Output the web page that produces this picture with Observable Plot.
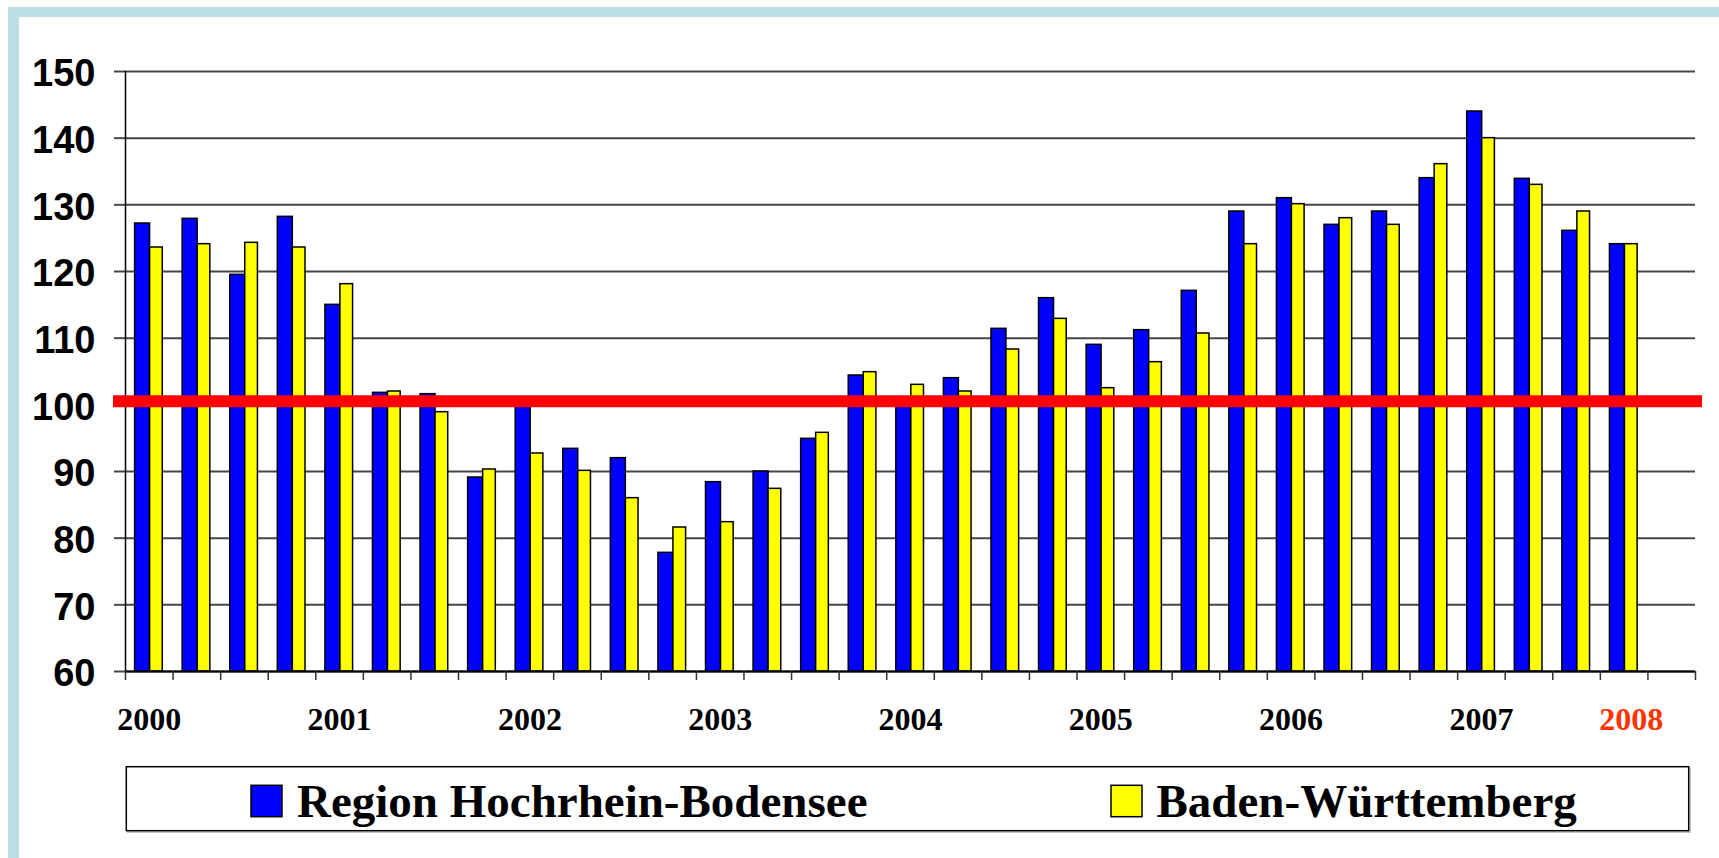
<!DOCTYPE html>
<html>
<head>
<meta charset="utf-8">
<script src="https://cdn.jsdelivr.net/npm/d3@7"></script>
<script src="https://cdn.jsdelivr.net/npm/@observablehq/plot@0.6"></script>
<style>
  html, body { margin: 0; padding: 0; background: #fff; }
  #wrap { position: relative; width: 1719px; height: 858px; overflow: hidden; background: #fff; }
  #chart svg, #legend svg { display: block; }
  .frame-top { position: absolute; left: 8px; top: 7px; width: 1711px; height: 10px; background: #bae0e3; }
  .frame-left { position: absolute; left: 8px; top: 7px; width: 11px; height: 851px; background: #bae0e3; }
</style>
</head>
<body>
<div id="wrap">
  <div id="chart"></div>
  <div id="legend"></div>
  <div class="frame-top"></div>
  <div class="frame-left"></div>
</div>
<script>
// ---- data ----
const quarters = [
  "2000 Q1","2000 Q2","2000 Q3","2000 Q4",
  "2001 Q1","2001 Q2","2001 Q3","2001 Q4",
  "2002 Q1","2002 Q2","2002 Q3","2002 Q4",
  "2003 Q1","2003 Q2","2003 Q3","2003 Q4",
  "2004 Q1","2004 Q2","2004 Q3","2004 Q4",
  "2005 Q1","2005 Q2","2005 Q3","2005 Q4",
  "2006 Q1","2006 Q2","2006 Q3","2006 Q4",
  "2007 Q1","2007 Q2","2007 Q3","2007 Q4",
  "2008 Q1"
];
const seriesNames = ["Region Hochrhein-Bodensee", "Baden-Württemberg"];
const hochrhein = [
  127.2, 127.9, 119.5, 128.2,
  115.0, 101.8, 101.6, 89.1,
  100.3, 93.4, 92.0, 77.8,
  88.4, 90.0, 94.9, 104.4,
  100.3, 104.0, 111.4, 116.0,
  109.0, 111.2, 117.1, 129.0,
  131.0, 127.0, 129.0, 134.0,
  144.0, 133.9, 126.1, 124.1
];
const badenWuerttemberg = [
  123.6, 124.1, 124.3, 123.6,
  118.1, 102.0, 98.9, 90.3,
  92.7, 90.1, 86.0, 81.6,
  82.4, 87.4, 95.8, 104.9,
  103.0, 102.0, 108.3, 112.9,
  102.5, 106.4, 110.7, 124.1,
  130.1, 128.0, 127.0, 136.1,
  140.0, 133.0, 129.0, 124.1
];
const yearLabels = ["2000","2001","2002","2003","2004","2005","2006","2007","2008"];
const yTicks = [60, 70, 80, 90, 100, 110, 120, 130, 140, 150];
const referenceLevel = 100;

// ---- derived tables ----
const rowsH = hochrhein.map((v, i) => ({slot: i, value: v}));
const rowsB = badenWuerttemberg.map((v, i) => ({slot: i, value: v}));
const lastYear = yearLabels[yearLabels.length - 1];
const yearRows = yearLabels.map(y => ({
  label: y,
  slot: Math.min(quarters.indexOf(y + " Q1"), hochrhein.length - 1)
}));
const yMin = yTicks[0], yMax = yTicks[yTicks.length - 1];

const chart = Plot.plot({
  width: 1719,
  height: 750,
  marginLeft: 125,
  marginRight: 24,
  marginTop: 71,
  marginBottom: 79,
  x: {domain: [0, quarters.length], axis: null},
  y: {domain: [yMin, yMax], axis: null},
  style: {background: "#fff", overflow: "visible"},
  marks: [
    Plot.gridY(yTicks, {stroke: "#474747", strokeOpacity: 1, strokeWidth: 2}),
    Plot.axisY(yTicks, {tickSize: 11, stroke: "#474747", strokeWidth: 2, tickFormat: () => "", label: null}),
    Plot.axisY(yTicks, {
      tickSize: 0, tickPadding: 30, dy: 2.5, label: null,
      fontSize: 38, fontWeight: "bold", fontFamily: "'Liberation Sans', Arial, sans-serif", fill: "#000"
    }),
    Plot.rectY(rowsH, {
      x1: "slot", x2: d => d.slot + 1, y1: yMin, y2: "value",
      insetLeft: 9.6, insetRight: 23,
      fill: "#0000ff", stroke: "#000", strokeWidth: 1.5
    }),
    Plot.rectY(rowsB, {
      x1: "slot", x2: d => d.slot + 1, y1: yMin, y2: "value",
      insetLeft: 24.6, insetRight: 10.3,
      fill: "#ffff00", stroke: "#000", strokeWidth: 1.5
    }),
    Plot.ruleX([0], {stroke: "#000", strokeWidth: 1.5}),
    Plot.ruleY([yMin], {stroke: "#000", strokeWidth: 2}),
    Plot.axisX(d3.range(quarters.length + 1), {
      tickSize: 9, stroke: "#333", strokeWidth: 1.5, tickFormat: () => "", label: null
    }),
    Plot.text(yearRows, {
      x: d => d.slot + 0.5,
      text: "label",
      frameAnchor: "bottom",
      lineAnchor: "bottom",
      dy: 58,
      fill: d => d.label === lastYear ? "#ff3300" : "#000000",
      fontSize: 32,
      fontWeight: "bold",
      fontFamily: "'Liberation Serif', 'Times New Roman', serif"
    }),
    Plot.ruleY([referenceLevel], {
      stroke: "#ff0000", strokeWidth: 12, insetLeft: -12, insetRight: -7, dy: -3.5
    })
  ]
});
document.getElementById("chart").appendChild(chart);

// shift the last year label slightly right like the reference
d3.select(chart).selectAll("text").filter(function() { return this.textContent === lastYear; })
  .attr("dx", 7);

// ---- legend ----
const legend = d3.create("svg").attr("width", 1719).attr("height", 108);
legend.append("rect").attr("x", 127.8).attr("y", 18.2).attr("width", 1562.4).attr("height", 64)
  .attr("fill", "none").attr("stroke", "#c0c0c0").attr("stroke-width", 1.5);
legend.append("rect").attr("x", 126.3).attr("y", 16.7).attr("width", 1562.4).attr("height", 64)
  .attr("fill", "#fff").attr("stroke", "#000").attr("stroke-width", 1.5);
const legendItems = [
  {name: seriesNames[0], fill: "#0000ff", sx: 251, tx: 297},
  {name: seriesNames[1], fill: "#ffff00", sx: 1111, tx: 1156.5}
];
for (const it of legendItems) {
  legend.append("rect").attr("x", it.sx).attr("y", 35.3).attr("width", 31).attr("height", 31.4)
    .attr("fill", it.fill).attr("stroke", "#000").attr("stroke-width", 1.5);
  legend.append("text").attr("x", it.tx).attr("y", 66.7)
    .attr("font-family", "'Liberation Serif', 'Times New Roman', serif")
    .attr("font-weight", "bold").attr("font-size", 47).attr("fill", "#000")
    .text(it.name);
}
document.getElementById("legend").appendChild(legend.node());
</script>
</body>
</html>
